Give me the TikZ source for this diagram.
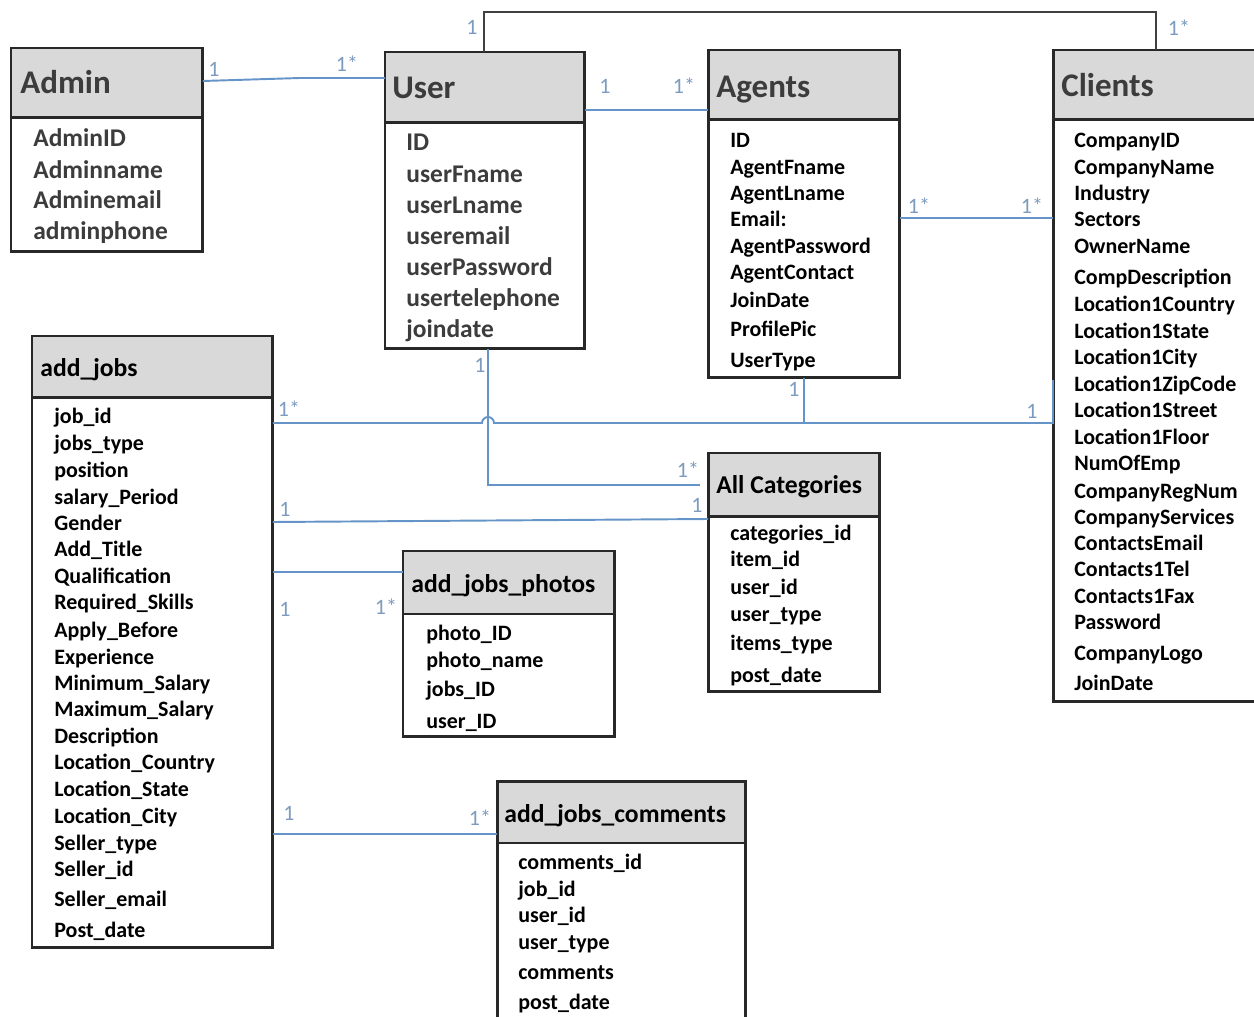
\documentclass[tikz,border=0pt]{standalone}
\usepackage{fontspec}
\setmainfont{Carlito}
\usepackage{xcolor}
\usepackage{tikz}
\usetikzlibrary{calc,positioning}

\definecolor{relblue}{RGB}{100,148,200}
\definecolor{cardblue}{RGB}{125,155,190}
\definecolor{boxline}{RGB}{40,40,40}
\definecolor{hdrgray}{RGB}{217,217,217}
\definecolor{txtgray}{RGB}{60,60,60}

\tikzset{
  hdr/.style={draw=boxline, fill=hdrgray, line width=1.7pt, anchor=north west, inner sep=0pt, outer sep=0pt},
  body/.style={draw=boxline, fill=white, line width=1.7pt, anchor=north west, inner sep=0pt, outer sep=0pt},
  bigtitle/.style={anchor=west, inner sep=0pt, yshift=-0.1cm, text=txtgray, text height=1.6ex, text depth=.4ex, font=\bfseries\fontsize{18.8}{22}\selectfont},
  title/.style={anchor=west, inner sep=0pt, yshift=-0.08cm, text height=1.6ex, text depth=.4ex, font=\bfseries\fontsize{14.6}{18}\selectfont},
  attr/.style={anchor=west, inner sep=0pt, yshift=-0.06cm, text height=1.6ex, text depth=.4ex, font=\bfseries\fontsize{12.5}{15}\selectfont},
  bigattr/.style={anchor=west, inner sep=0pt, yshift=-0.06cm, text height=1.6ex, text depth=.4ex, text=txtgray, font=\bfseries\fontsize{14.5}{18}\selectfont},
  rel/.style={draw=relblue, line width=1.1pt},
  topline/.style={draw=black!75, line width=1.1pt},
  card/.style={text=cardblue, inner sep=0pt, font=\fontsize{12.5}{15}\selectfont}
}

\begin{document}
\begin{tikzpicture}[x=0.02cm,y=-0.02cm]
\clip (0,0) rectangle (1254,1017);
%Admin
\node[hdr, minimum width=3.84cm, minimum height=1.40cm] (admh) at (11,48) {};
\node[body, minimum width=3.84cm, minimum height=2.68cm] (admb) at (admh.south west) {};
\node[bigtitle] (admt) at (20,83) {Admin};
\foreach \y/\t [count=\i] in {138/AdminID,170/Adminname,200/Adminemail,231/adminphone}
\node[bigattr] (adm\i) at (33,\y) {\t};
%User
\node[hdr, minimum width=4.0cm, minimum height=1.42cm] (userh) at (385,52) {};
\node[body, minimum width=4.0cm, minimum height=4.52cm] (userb) at (userh.south west) {};
\node[bigtitle] (usert) at (392,88) {User};
\foreach \y/\t [count=\i] in {142/ID,174/userFname,205/userLname,236/useremail,267/userPassword,298/usertelephone,329/joindate}
\node[bigattr] (user\i) at (406,\y) {\t};
%Agents
\node[hdr, minimum width=3.84cm, minimum height=1.40cm] (agh) at (708,50) {};
\node[body, minimum width=3.84cm, minimum height=5.16cm] (agb) at (agh.south west) {};
\node[bigtitle] (agt) at (716,87) {Agents};
\foreach \y/\t [count=\i] in {139/ID,166/AgentFname,192/AgentLname,218/Email:,245/AgentPassword,271/AgentContact,299/JoinDate,328/ProfilePic,359/UserType}
\node[attr] (ag\i) at (730,\y) {\t};
%Clients
\node[hdr, minimum width=4.44cm, minimum height=1.40cm] (clih) at (1053,50) {};
\node[body, minimum width=4.44cm, minimum height=11.64cm] (clib) at (clih.south west) {};
\node[bigtitle] (clit) at (1061,86) {Clients};
\foreach \y/\t [count=\i] in {139/CompanyID,166/CompanyName,192/Industry,218/Sectors,245/OwnerName,276/CompDescription,303/Location1Country,330/Location1State,356/Location1City,383/Location1ZipCode,409/Location1Street,436/Location1Floor,462/NumOfEmp,490/CompanyRegNum,516/CompanyServices,542/ContactsEmail,568/Contacts1Tel,595/Contacts1Fax,621/Password,652/CompanyLogo,682/JoinDate}
\node[attr] (cli\i) at (1074,\y) {\t};
%add_jobs
\node[hdr, minimum width=4.82cm, minimum height=1.24cm] (jobh) at (32,336) {};
\node[body, minimum width=4.82cm, minimum height=11.0cm] (jobb) at (jobh.south west) {};
\node[title] (jobt) at (40,367) {add\_jobs};
\foreach \y/\t [count=\i] in {415/job\_id,442/jobs\_type,469/position,496/salary\_Period,522/Gender,548/Add\_Title,575/Qualification,601/Required\_Skills,629/Apply\_Before,656/Experience,682/Minimum\_Salary,708/Maximum\_Salary,735/Description,761/Location\_Country,788/Location\_State,815/Location\_City,842/Seller\_type,868/Seller\_id,898/Seller\_email,929/Post\_date}
\node[attr] (job\i) at (54,\y) {\t};
%All Categories
\node[hdr, minimum width=3.44cm, minimum height=1.28cm] (cath) at (708,453) {};
\node[body, minimum width=3.44cm, minimum height=3.50cm] (catb) at (cath.south west) {};
\node[title] (catt) at (716,484) {All Categories};
\foreach \y/\t [count=\i] in {532/categories\_id,558/item\_id,586/user\_id,613/user\_type,642/items\_type,674/post\_date}
\node[attr] (cat\i) at (730,\y) {\t};
%add_jobs_photos
\node[hdr, minimum width=4.24cm, minimum height=1.26cm] (phh) at (403,551) {};
\node[body, minimum width=4.24cm, minimum height=2.46cm] (phb) at (phh.south west) {};
\node[title] (pht) at (411,583) {add\_jobs\_photos};
\foreach \y/\t [count=\i] in {632/photo\_ID,659/photo\_name,688/jobs\_ID,720/user\_ID}
\node[attr] (ph\i) at (426,\y) {\t};
%add_jobs_comments
\node[hdr, minimum width=4.98cm, minimum height=1.24cm] (comh) at (497,781) {};
\node[body, minimum width=4.98cm, minimum height=3.74cm] (comb) at (comh.south west) {};
\node[title] (comt) at (504,813) {add\_jobs\_comments};
\foreach \y/\t [count=\i] in {861/comments\_id,888/job\_id,914/user\_id,941/user\_type,971/comments,1001/post\_date}
\node[attr] (com\i) at (518,\y) {\t};

%relations
\draw[rel] (admh.east |- 0,81) -- (300,78) -- (userh.west |- 0,78);
\draw[topline] (userh.north -| 484,0) -- (484,12) -| (clih.north -| 1156,0);
\draw[rel] (userh.east |- 0,110) -- (agh.west |- 0,110);
\draw[rel] (agb.east |- 0,218) -- (clib.west |- 0,218);
\draw[rel] (jobb.east |- 0,423) -- (482,423) arc (180:360:6) -- (clib.west |- 0,423) -- (clib.west |- 0,380);
\draw[rel] (agb.south) -- (agb.south |- 0,423);
\draw[rel, shorten >=0.16cm] (userb.south -| 488,0) -- (488,485) -- (cath.west |- 0,485);
\draw[rel] (jobb.east |- 0,522) -- (catb.west |- 0,519);
\draw[rel] (jobb.east |- 0,572) -- (phh.west |- 0,572);
\draw[rel] (jobb.east |- 0,834) -- (comh.west |- 0,834);
%cardinalities
\foreach \x/\y/\t [count=\i] in {214/69/1,347/64/1*,472/27/1,1179/28/1*,605/86/1,684/86/1*,919/206/1*,1032/206/1*,289/409/1*,1032/411/1,794/389/1,480/365/1,688/470/1*,285/509/1,697/505/1,285/609/1,386/607/1*,289/813/1,480/818/1*}
\node[card] (card\i) at (\x,\y) {\t};
\end{tikzpicture}
\end{document}
